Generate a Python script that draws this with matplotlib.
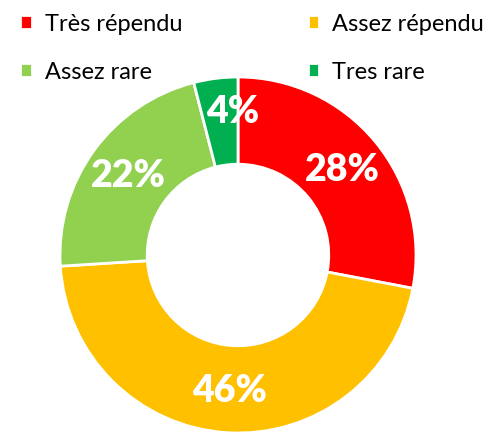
import matplotlib
matplotlib.use("Agg")
import matplotlib.pyplot as plt
import numpy as np

labels = ['Très répendu', 'Assez répendu', 'Assez rare', 'Tres rare']
values = [28, 46, 22, 4]
colors = ['#FF0000', '#FFC000', '#92D050', '#00B050']

plt.rcParams['font.family'] = ['Lato', 'DejaVu Sans']

fig = plt.figure(figsize=(4.92, 4.35), dpi=100)
# donut centred at (238, 256) px, outer radius about 178 px
cx, cy, r = 238, 256, 178 * 1.02
ax = fig.add_axes([(cx - r) / 492, (435 - cy - r) / 435, 2 * r / 492, 2 * r / 435])

wedges, texts, autotexts = ax.pie(
    values, colors=colors, startangle=90, counterclock=False,
    radius=1.0, wedgeprops=dict(width=0.49, edgecolor='white', linewidth=2),
    autopct='%1.0f%%', pctdistance=0.76,
    textprops=dict(color='white', fontsize=27, fontweight='heavy'))
ax.set_xlim(-1.02, 1.02)
ax.set_ylim(-1.02, 1.02)
ax.set_aspect('equal')
ax.axis('off')

# small slice label sits a bit higher in the original
autotexts[3].set_position((-0.03, 0.81))

# legend is filled row by row in the original
order = [0, 2, 1, 3]
fig.legend([wedges[i] for i in order], [labels[i] for i in order],
           loc='upper left', bbox_to_anchor=(0.012, 1.0),
           ncol=2, frameon=False, fontsize=17, handlelength=0.5, handleheight=0.5,
           handletextpad=0.55, columnspacing=5.3, labelspacing=1.15,
           borderaxespad=0.2)

fig.savefig('out.png', dpi=100)
